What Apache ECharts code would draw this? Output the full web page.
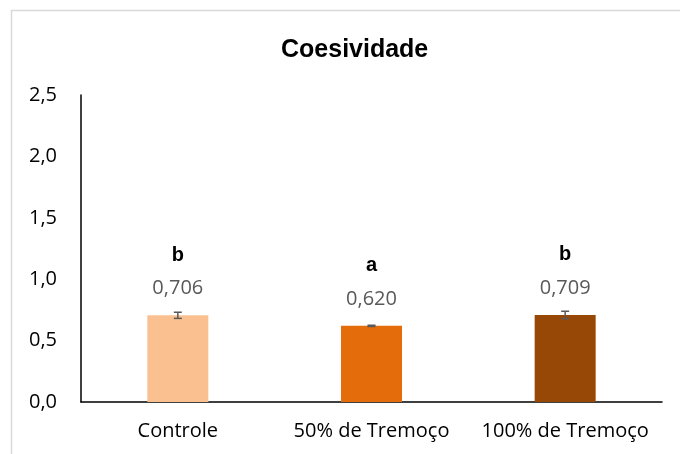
<!DOCTYPE html>
<html>
<head>
<meta charset="utf-8">
<script src="https://cdn.jsdelivr.net/npm/echarts@6/dist/echarts.min.js"></script>
<style>
html, body { margin: 0; padding: 0; background: #fff; }
#main { width: 680px; height: 454px; }
</style>
</head>
<body>
<div id="main"></div>
<script>
var categories = ['Controle', '50% de Tremoço', '100% de Tremoço'];
var values = [0.706, 0.620, 0.709];
var errors = [0.025, 0.005, 0.03];
var letters = ['b', 'a', 'b'];
var colors = ['#FAC090', '#E46C0A', '#974706'];

var myChart = echarts.init(document.getElementById('main'));

function fmt(v, d) {
	return v.toFixed(d).replace('.', ',');
}

var barData = [];
for (var i = 0; i < values.length; i++) {
	barData.push({
		value: values[i],
		itemStyle: { color: colors[i] },
		label: { formatter: '{l|' + letters[i] + '}\n{v|' + fmt(values[i], 3) + '}' }
	});
}

var errData = [];
for (var j = 0; j < values.length; j++) {
	errData.push([j, values[j] - errors[j], values[j] + errors[j]]);
}

option = {
	animation: false,
	title: {
		text: 'Coesividade',
		left: 276,
		top: 33,
		textStyle: { fontFamily: 'Liberation Sans', fontWeight: 'bold', fontSize: 25, color: '#000' }
	},
	graphic: [{
		type: 'rect',
		shape: { x: 11.5, y: 10.5, width: 700, height: 460 },
		style: { fill: 'none', stroke: '#d9d9d9', lineWidth: 1.5 },
		silent: true
	}],
	grid: { left: 81, right: 18, top: 95, bottom: 52 },
	xAxis: {
		type: 'category',
		data: categories,
		axisLine: { lineStyle: { color: '#000', width: 1.5 } },
		axisTick: { show: false },
		axisLabel: { interval: 0, hideOverlap: false, color: '#000', fontFamily: 'Open Sans', fontSize: 20, margin: 19 }
	},
	yAxis: {
		type: 'value',
		min: 0,
		max: 2.5,
		interval: 0.5,
		splitLine: { show: false },
		axisLine: { show: true, lineStyle: { color: '#000', width: 1.5 } },
		axisTick: { show: false },
		axisLabel: {
			color: '#000', fontFamily: 'Open Sans', fontSize: 20, margin: 24,
			formatter: function (v) { return fmt(v, 1); }
		}
	},
	series: [{
		type: 'bar',
		data: barData,
		barWidth: 61,
		label: {
			show: true,
			position: 'top',
			distance: 15,
			rich: {
				l: { fontFamily: 'Liberation Sans', fontWeight: 'bold', fontSize: 20, color: '#000', lineHeight: 42 },
				v: { fontFamily: 'Open Sans', fontSize: 20, color: '#595959', lineHeight: 24 }
			}
		}
	}, {
		type: 'custom',
		data: errData,
		z: 10,
		renderItem: function (params, api) {
			var x = api.coord([api.value(0), 0])[0];
			var lo = api.coord([api.value(0), api.value(1)])[1];
			var hi = api.coord([api.value(0), api.value(2)])[1];
			var hw = 4;
			var st = { stroke: '#595959', lineWidth: 1.5 };
			return {
				type: 'group',
				children: [
					{ type: 'line', shape: { x1: x, y1: lo, x2: x, y2: hi }, style: st },
					{ type: 'line', shape: { x1: x - hw, y1: lo, x2: x + hw, y2: lo }, style: st },
					{ type: 'line', shape: { x1: x - hw, y1: hi, x2: x + hw, y2: hi }, style: st }
				]
			};
		}
	}]
};
myChart.setOption(option);
</script>
</body>
</html>
